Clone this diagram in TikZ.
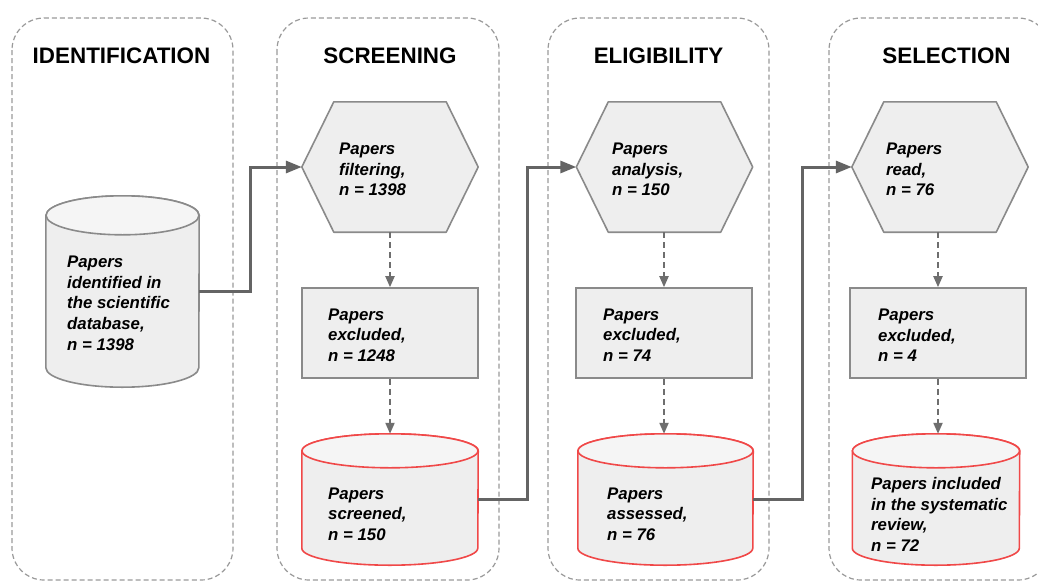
\documentclass[tikz,border=0pt]{standalone}
\usepackage{fontspec}
\setmainfont{Liberation Sans}
\usetikzlibrary{arrows.meta,calc}
\definecolor{shfill}{HTML}{EEEEEE}
\definecolor{shtop}{HTML}{F5F5F5}
\definecolor{shdraw}{HTML}{8A8A8A}
\definecolor{dbred}{HTML}{F04848}
\definecolor{lanegray}{HTML}{9A9A9A}
\definecolor{conngray}{HTML}{646464}
\definecolor{dashgray}{HTML}{6E6E6E}
\tikzset{
  lane/.style={draw=lanegray, line width=1.2pt, dash pattern=on 5pt off 3pt, rounded corners=32pt},
  ttl/.style={anchor=base, inner sep=0pt, font=\bfseries\fontsize{22.4}{26}\selectfont},
  txt/.style={anchor=west, inner sep=0pt, align=left, font=\bfseries\itshape\fontsize{16.8}{20.7}\selectfont},
  shp/.style={rectangle, inner sep=0pt},
  hexshape/.style={fill=shfill, draw=shdraw, line width=1.6pt, line join=round},
  boxshape/.style={rectangle, inner sep=0pt, fill=shfill, draw=shdraw, line width=1.6pt, minimum width=176pt, minimum height=90pt},
  conn/.style={draw=conngray, line width=3pt, -{Triangle[length=16pt,width=12pt]}},
  dconn/.style={draw=dashgray, line width=2pt, dash pattern=on 6pt off 4pt, -{Triangle[length=11pt,width=9pt]}},
}
\newcommand\drawhex[1]{\draw[hexshape] (#1.west) -- ([xshift=32pt]#1.north west) -- ([xshift=-32pt]#1.north east) -- (#1.east) -- ([xshift=-32pt]#1.south east) -- ([xshift=32pt]#1.south west) -- cycle;}
\newcommand\drawcyl[4]{%
  \filldraw[fill=shfill, draw=#4, line width=1.6pt] ([yshift=-#3pt]#1.north west) -- ([yshift=#3pt]#1.south west) arc[start angle=180,end angle=360,x radius=#2pt,y radius=#3pt] -- ([yshift=-#3pt]#1.north east) arc[start angle=0,end angle=180,x radius=#2pt,y radius=#3pt] -- cycle;
  \filldraw[fill=shtop, draw=#4, line width=1.6pt] ([yshift=-#3pt]#1.north) ellipse[x radius=#2pt,y radius=#3pt];}
\begin{document}
\begin{tikzpicture}[x=1pt,y=-1pt]
\useasboundingbox (0,0) rectangle (1038,581);
\clip (0,0) rectangle (1038,581);
\fill[white] (0,0) rectangle (1038,581);
% lanes
\draw[lane] (12,18) rectangle (233,580);
\draw[lane] (277,18) rectangle (499,580);
\draw[lane] (548,18) rectangle (769,580);
\draw[lane] (829,18) rectangle (1050,580);
% titles
\node[ttl] (t1) at (121.5,63) {IDENTIFICATION};
\node[ttl] (t2) at (390,63) {SCREENING};
\node[ttl] (t3) at (658.5,63) {ELIGIBILITY};
\node[ttl] (t4) at (946.5,63) {SELECTION};
% identification
\node[shp, minimum width=153pt, minimum height=191pt] (c1) at (122.5,291.5) {};
\drawcyl{c1}{76.5}{19.5}{shdraw}
\node[txt] (c1t) at (67,303) {Papers\\identified in\\the scientific\\database,\\n = 1398};
% screening
\node[shp, minimum width=176pt, minimum height=130pt] (h2) at (390,167) {};
\drawhex{h2}
\node[txt] (h2t) at (339,169.5) {Papers\\filtering,\\n = 1398};
\node[boxshape] (b2) at (390,333) {};
\node[txt] (b2t) at (328,335) {Papers\\excluded,\\n = 1248};
\node[shp, minimum width=176pt, minimum height=131pt] (c2) at (390,499.5) {};
\drawcyl{c2}{88}{17}{dbred}
\node[txt] (c2t) at (328,514) {Papers\\screened,\\n = 150};
% eligibility
\node[shp, minimum width=176pt, minimum height=130pt] (h3) at (664.5,167) {};
\drawhex{h3}
\node[txt] (h3t) at (612,169.5) {Papers\\analysis,\\n = 150};
\node[boxshape] (b3) at (664,333) {};
\node[txt] (b3t) at (603,335) {Papers\\excluded,\\n = 74};
\node[shp, minimum width=175pt, minimum height=131pt] (c3) at (665.5,499.5) {};
\drawcyl{c3}{87.5}{17}{dbred}
\node[txt] (c3t) at (607,514) {Papers\\assessed,\\n = 76};
% selection
\node[shp, minimum width=176pt, minimum height=130pt] (h4) at (940,167) {};
\drawhex{h4}
\node[txt] (h4t) at (886,169.5) {Papers\\read,\\n = 76};
\node[boxshape] (b4) at (938,333) {};
\node[txt] (b4t) at (878,335.5) {Papers\\excluded,\\n = 4};
\node[shp, minimum width=167pt, minimum height=131pt] (c4) at (936,499.5) {};
\drawcyl{c4}{83.5}{17}{dbred}
\node[txt] (c4t) at (871,514.5) {Papers included\\in the systematic\\review,\\n = 72};
% connectors
\draw[conn] (c1.east) -| ($(c1.east)!.5!(h2.west)$) |- (h2.west);
\draw[conn] (c2.east) -| ($(c2.east)!.5!(h3.west)$) |- (h3.west);
\draw[conn] (c3.east) -| ($(c3.east)!.5!(h4.west)$) |- (h4.west);
\draw[dconn] (h2.south) -- (b2.north);
\draw[dconn] (b2.south) -- (b2.south |- c2.north);
\draw[dconn] (h3.south -| b3.north) -- (b3.north);
\draw[dconn] (b3.south) -- (b3.south |- c3.north);
\draw[dconn] (b4.north |- h4.south) -- (b4.north);
\draw[dconn] (b4.south) -- (b4.south |- c4.north);
\end{tikzpicture}
\end{document}
